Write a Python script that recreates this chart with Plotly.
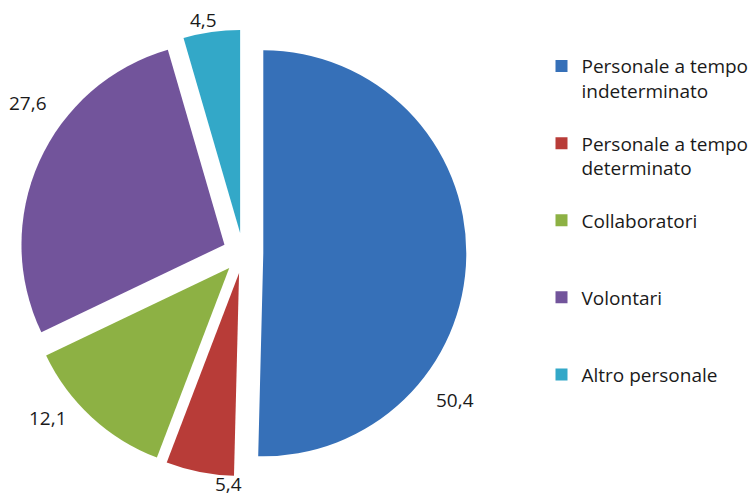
import plotly.graph_objects as go

categories = ["Personale a tempo<br>indeterminato<br> ", "Personale a tempo<br>determinato<br> ",
              "Collaboratori<br> <br> ", "Volontari<br> <br> ", "Altro personale"]
values = [50.4, 5.4, 12.1, 27.6, 4.5]
value_labels = ["50,4", "5,4", "12,1", "27,6", "4,5"]
colors = ["#3670b8", "#b83c38", "#8db144", "#72549b", "#33a8c8"]

# layout: pixel positions of the value labels (as placed in the reference)
label_px = [(455, 400), (228, 484), (48, 418), (28, 103), (203, 20)]

W, H = 750, 497
cx, cy, r, pull = 243, 253, 203, 0.1
half = r * (1 + pull)

fig = go.Figure(go.Pie(
    labels=categories,
    values=values,
    textinfo="none",
    marker=dict(colors=colors, line=dict(width=0)),
    sort=False,
    direction="clockwise",
    rotation=0,
    pull=[pull] * 5,
    automargin=False,
    showlegend=True,
    domain=dict(x=[(cx - half) / W, (cx + half) / W],
                y=[1 - (cy + half) / H, 1 - (cy - half) / H]),
))

for txt, (px, py) in zip(value_labels, label_px):
    fig.add_annotation(text=txt, x=px / W, y=1 - py / H, xref="paper", yref="paper",
                       xanchor="center", yanchor="middle", showarrow=False,
                       font=dict(size=19, color="#1a1a1a"))

fig.update_layout(
    width=W, height=H,
    margin=dict(l=0, r=0, t=0, b=0, autoexpand=False),
    paper_bgcolor="white",
    font=dict(family="Open Sans, sans-serif", size=19, color="#1a1a1a"),
    legend=dict(x=0.722, y=0.905, xanchor="left", yanchor="top",
                valign="top", font=dict(size=19, color="#1a1a1a"),
                itemsizing="constant"),
)

fig.write_html("out.html")
